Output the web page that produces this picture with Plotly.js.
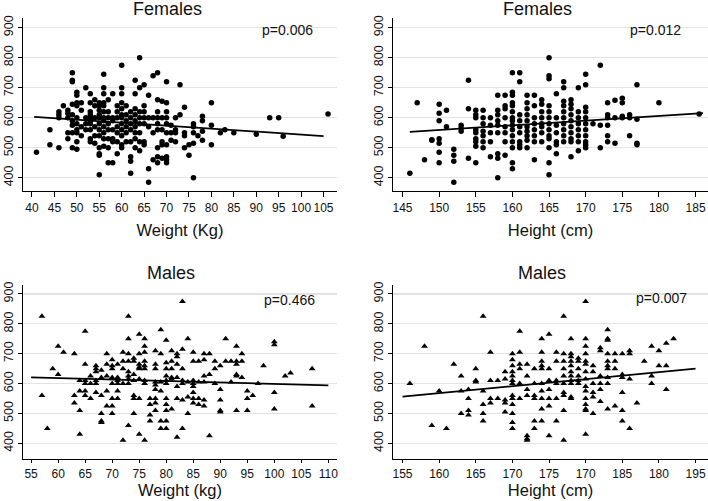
<!DOCTYPE html>
<html>
<head>
<meta charset="utf-8">
<script src="https://cdn.plot.ly/plotly-3.0.1.min.js"></script>
<style>html,body{margin:0;padding:0;background:#fff;}#chart{width:708px;height:501px;}</style>
</head>
<body>
<div id="chart"></div>
<script>
// Each row: [x value, y values...]
const femWeightRows = [
 [41,485],[44,560,510],[46,620,610,600,500],[47,640],[48,625,615,600,550,530],
 [49,750,725,720,645,610,590,575,550,500],[50,685,675,650,640,600,580,560,550,520,495],
 [51,650,625,570,540],[52,700,600,580,560],[53,680,650,620,610,600,590,580,560,530,520],
 [54,660,640,600,570,540,515],[55,650,640,625,610,600,580,560,540,500,480,475,410],
 [56,745,700,680,650,640,620,600,590,570,550,530,505],[57,660,620,600,580,560,530,500,450],
 [58,680,600,590,560,530,520,450],[59,640,620,600,570,550,520,480],
 [60,775,700,680,650,630,610,600,580,560,540,510,500],[61,640,610,590,570,550,520],
 [62,620,600,580,560,520,470,455,415],[63,725,680,630,610,590,570,550,530,500],
 [64,800,700,620,600,580,550,520,490],[65,710,640,620,600,580,520,510],
 [66,675,600,570,430,385],[67,740,600,550,460],[68,750,660,620,600,580,560,500,470,450],
 [69,655,600,560,520,510,465],[70,720,650,620,600,580,550,510,470,460,450],
 [71,575,550,525],[72,600,560,550,520],[73,710,610],[74,635,550,540,500],[75,510,475],
 [76,580,570,550,515,400],[77,540],[78,605,590,555,525],[80,650,575,510],[82,550],
 [83,560],[85,550],[90,545],[93,600],[95,600],[96,538],[106,612]
];
const femHeightRows = [
 [146,415],[147,650],[148,460],[149,525,527],[150,645,615,590,530,515,485,450],[151,625,570],
 [152,495,475,455,385],[153,575,565,555],[154,725,630,465],[155,625,610,600,560,550,530,520,505,450],
 [156,625,600,580,555,540,520,500],[157,600,575,550,520,470],[158,675,625,610,590,575,550,480,465,400],
 [159,675,640,630,600,570,550,520,475],[160,750,685,675,650,640,620,600,590,575,560,540,520,500,450,430],
 [161,750,720,610,590,570,550,520,510,500],[162,675,650,630,610,590,570,555,540,525,500],
 [163,675,640,600,580,560,540,520,460],[164,660,645,620,600,580,570,550,520],
 [165,800,740,730,640,620,600,580,560,540,530,500,450,410],[166,680,600,575,550,520,510,480],
 [167,720,700,655,640,620,600,580,560,540,520],[168,660,645,630,610,590,570,550,530,520,470],
 [169,700,620,600,580,560,540,520,490],[170,745,710,635,620,600,580,560,540,520,510,500],
 [171,580],[172,775,575,500],[173,650,610,600,575,540,520],[174,658,600,515],
 [175,665,650,605,600],[176,610,600,540],[177,710,595,515,510],[180,650],[185.5,612]
];
const maleWeightRows = [
 [57,825,560],[58,450],[59,650],[60,725,630],[61,705],[63,700,560,535],[64,610,575,510,430],
 [65,775,665,610,600,575,560],[66,625,600,550],[67,660,650,640,610,600,570],
 [68,645,620,560,500,475,470],[69,700,665,625,575,525],[70,680,660,650,620,600,550,525,500],
 [71,665,620,610,600,575,550],[72,705,675,650,600,410],[73,825,750,700,675,640,625,615,600,460],
 [74,685,675,630,610,560,550,500],[75,765,700,665,655,650,615,550,430],
 [76,750,725,705,675,660,650,610,600,410],[77,550,530,495,475],
 [78,710,665,650,605,595,580,550,535,510],[79,780,700,605,575,475,450],
 [80,745,670,650,625,610,600,550,530,510,475,450],[81,710,675,650,620,615,515],
 [82,700,690,665,620,590,550,420],[83,875,715,650,610,600,545,450],[84,750,605,555,500],
 [85,705,675,610,600,590,570,550,535],[86,675,605,550,530],[87,700,680,625,605,545,525],
 [88,700,630,425],[89,675,650,600],[90,660,580,545,510,505],[91,750,675],[92,675,605],
 [93,725,675,665,630,625,510],[94,700,675,620],[95,575,550,510],[96,560],[97,600],[98,660],
 [100,740,730,570,515],[102,625],[103,635],[107,650,525]
];
const maleHeightRows = [
 [156,600],[158,725],[159,460],[160,575],[161,450],[162,665],[163,625,575,500],[164,580,550,510,495],
 [165,650,610,605],[166,825,575,530,500,475],[167,705,610,550,535],[168,610,550],
 [169,640,615,545,535,505],[170,700,680,660,640,625,610,600,560,550,530,500,470,450],
 [171,775,705,665,650,600,550],[172,665,625,580,560,425,415,410],[173,650,600,560,550,475,450],
 [174,750,705,675,660,650,600,575,550,515,475],[175,765,650,610,580,550,525,425],
 [176,705,675,610,600,550,475],[177,825,700,675,650,625,600,570,560,510,410],
 [178,750,700,690,675,660,640,625,610,600,555,550],[179,685,675,650,625,610,600],
 [180,875,750,725,700,675,665,640,615,590,575,550,530,515,510,430],[181,660,640,600,570,555,500],
 [182,720,710,625,600,580,540],[183,780,750,745,700,675,660,650,620,600,515],[184,700,675,650,525],
 [185,700,630,620,570,510,475],[186,710,700,615,450],[187,535],[188,675],[189,725,625,600],
 [190,710,660],[191,735,660,580],[192,750]
];
// Fitted lines (endpoints)
const fitFemWeightX = [40.5, 105], fitFemWeightY = [603, 539];
const fitFemHeightX = [146, 186], fitFemHeightY = [553, 615];
const fitMaleWeightX = [55, 110], fitMaleWeightY = [621, 594];
const fitMaleHeightX = [155, 195], fitMaleHeightY = [556, 650];
const pValues = ['p=0.006', 'p=0.012', 'p=0.466', 'p=0.007'];
const panelTitles = ['Females', 'Females', 'Males', 'Males'];
const xTitles = ['Weight (Kg)', 'Height (cm)', 'Weight (kg)', 'Height (cm)'];
const yTickVals = [400, 500, 600, 700, 800, 900];
const femWeightTicks = [40,45,50,55,60,65,70,75,80,85,90,95,100,105];
const femHeightTicks = [145,150,155,160,165,170,175,180,185];
const maleWeightTicks = [55,60,65,70,75,80,85,90,95,100,105,110];
const maleHeightTicks = [155,160,165,170,175,180,185,190,195];
const maleHeightTickText = ['155','160','165','170','175','170','185','180','195'];

function expand(rows){
  const x=[], y=[];
  rows.forEach(r=>{ for(let i=1;i<r.length;i++){ x.push(r[0]); y.push(r[i]); } });
  return {x, y};
}
const FONT = 'Liberation Sans, Arial, sans-serif';
const TXT = '#111';
const panels = [
  {rows: femWeightRows, sym: 'circle', size: 5.5, fx: fitFemWeightX, fy: fitFemWeightY},
  {rows: femHeightRows, sym: 'circle', size: 5.5, fx: fitFemHeightX, fy: fitFemHeightY},
  {rows: maleWeightRows, sym: 'triangle-up', size: 6, fx: fitMaleWeightX, fy: fitMaleWeightY},
  {rows: maleHeightRows, sym: 'triangle-up', size: 6, fx: fitMaleHeightX, fy: fitMaleHeightY}
];
const traces = [];
panels.forEach((p, i) => {
  const d = expand(p.rows);
  const xa = i === 0 ? 'x' : 'x' + (i+1), ya = i === 0 ? 'y' : 'y' + (i+1);
  traces.push({type:'scatter', mode:'markers', x:d.x, y:d.y, xaxis:xa, yaxis:ya,
    marker:{symbol:p.sym, size:p.size, color:'#000'}, hoverinfo:'skip', showlegend:false});
  traces.push({type:'scatter', mode:'lines', x:p.fx, y:p.fy, xaxis:xa, yaxis:ya,
    line:{color:'#000', width:1.7}, hoverinfo:'skip', showlegend:false});
});

function xAxis(domain, range, ticks, title, anchor, standoff, ticklen, ticktext){
  return {domain, range, tickmode:'array', tickvals:ticks, ticktext: ticktext || ticks.map(String),
    tickangle:0, showline:true, linecolor:'#000', linewidth:1.2, ticks:'outside', ticklen, tickcolor:'#000',
    showgrid:false, zeroline:false, anchor,
    tickfont:{family:FONT, size:12, color:TXT},
    title:{text:title, font:{family:FONT, size:16.5, color:TXT}, standoff}};
}
function yAxis(domain, range, anchor){
  return {domain, range, tickmode:'array', tickvals:yTickVals, ticktext:yTickVals.map(String),
    tickangle:-90, showline:true, linecolor:'#000', linewidth:1.2, ticks:'outside', ticklen:4, tickcolor:'#000',
    showgrid:true, gridcolor:'#e2e2e2', gridwidth:1.2, zeroline:false, anchor,
    tickfont:{family:FONT, size:12.5, color:TXT}};
}
function ann(text, px, py, size){
  return {text, x:px/708, y:1-py/501, xref:'paper', yref:'paper', xanchor:'center', yanchor:'middle',
    showarrow:false, font:{family:FONT, size, color:TXT}};
}
const xd1 = [23/708, 337/708], xd2 = [393/708, 1.0];
const ydTop = [1-191/501, 1-18/501], ydBot = [1-459/501, 1-285/501];
const layout = {
  width:708, height:501, margin:{l:0, r:0, t:0, b:0},
  paper_bgcolor:'#fff', plot_bgcolor:'#fff', showlegend:false,
  font:{family:FONT, color:TXT},
  xaxis: xAxis(xd1, [38.0, 108.0], femWeightTicks, xTitles[0], 'y', 10, 5),
  yaxis: yAxis(ydTop, [356, 932], 'x'),
  xaxis2: xAxis(xd2, [143.7, 186.7], femHeightTicks, xTitles[1], 'y2', 10, 5),
  yaxis2: yAxis(ydTop, [356, 932], 'x2'),
  xaxis3: xAxis(xd1, [53.5, 111.6], maleWeightTicks, xTitles[2], 'y3', 0, 3),
  yaxis3: yAxis(ydBot, [347.5, 930], 'x3'),
  xaxis4: xAxis(xd2, [153.7, 196.7], maleHeightTicks, xTitles[3], 'y4', 0, 3, maleHeightTickText),
  yaxis4: yAxis(ydBot, [347.5, 930], 'x4'),
  annotations: [
    ann(panelTitles[0], 167, 9, 18), ann(panelTitles[1], 537, 9, 18),
    ann(panelTitles[2], 171, 273, 18), ann(panelTitles[3], 542, 273, 18),
    ann(pValues[0], 287, 30, 14), ann(pValues[1], 655, 30, 14),
    ann(pValues[2], 289, 300, 14), ann(pValues[3], 661, 298, 14)
  ]
};
Plotly.newPlot('chart', traces, layout, {displayModeBar:false, staticPlot:true});
</script>
</body>
</html>
